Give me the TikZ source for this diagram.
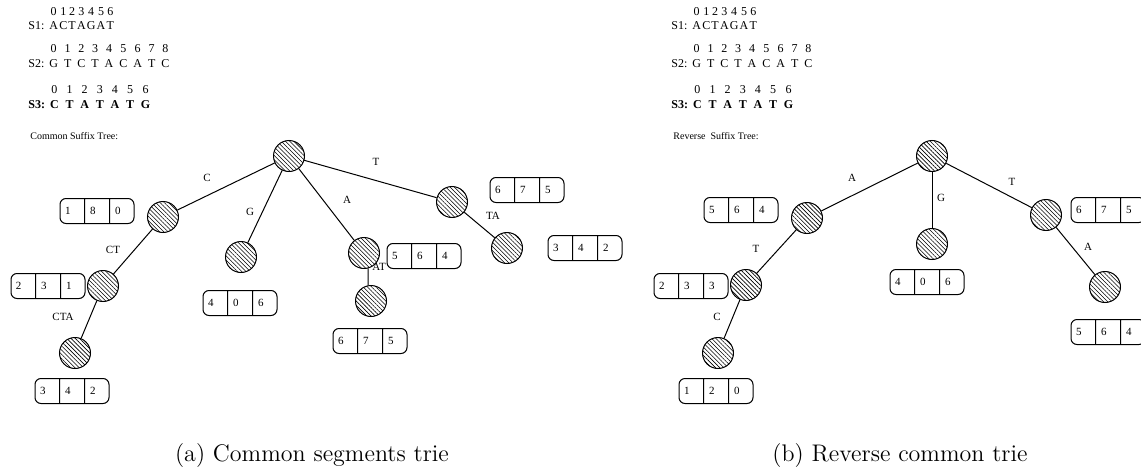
\documentclass[tikz,border=0pt]{standalone}
\usepackage{fontspec}
\newfontfamily\tm{Liberation Serif}
\usetikzlibrary{positioning,shapes.multipart,patterns.meta}

\begin{document}
\begin{tikzpicture}[x=0.5pt, y=-0.5pt,
        trienode/.style={circle, draw, line width=0.5pt, minimum size=15.5pt, inner sep=0pt, pattern={Lines[angle=-45, distance=1.5pt, line width=0.3pt]}},
        edgelabel/.style={inner sep=0pt, font=\tm\fontsize{5.5}{6.5}\selectfont},
        posbox/.style={rectangle split, rectangle split horizontal, rectangle split parts=3, draw, line width=0.5pt, rounded corners=3pt, text width=7pt, align=left, inner xsep=2.5pt, text height=4pt, text depth=1pt, inner ysep=3.75pt, font=\tm\fontsize{5.5}{6.5}\selectfont},
        seqnode/.style={inner sep=0pt, anchor=west, font=\tm\fontsize{6}{7.2}\selectfont},
        titlenode/.style={inner sep=0pt, anchor=west, font=\tm\fontsize{5}{6}\selectfont},
        captionnode/.style={inner sep=0pt, anchor=base, font=\fontsize{12}{14}\selectfont},
        ]
        \useasboundingbox (0,0) rectangle (1141,471);

        %Sequences (left)
        \node[seqnode] (ls1) at (28,19.5) {\setlength\tabcolsep{0.3pt}\begin{tabular}{@{}l@{\hspace{2.5pt}}*{7}{c}@{}} & 0&1&2&3&4&5&6\\ S1: & A&C&T&A&G&A&T\end{tabular}};
        \node[seqnode] (ls2) at (28,57) {\setlength\tabcolsep{1.5pt}\begin{tabular}{@{}l@{\hspace{2.5pt}}*{9}{c}@{}} & 0&1&2&3&4&5&6&7&8\\ S2: & G&T&C&T&A&C&A&T&C\end{tabular}};
        \node[seqnode] (ls3) at (28,98) {\setlength\tabcolsep{1.7pt}\begin{tabular}{@{}l@{\hspace{2.5pt}}*{7}{c}@{}} & 0&1&2&3&4&5&6\\ \textbf{S3:} & \textbf{C}&\textbf{T}&\textbf{A}&\textbf{T}&\textbf{A}&\textbf{T}&\textbf{G}\end{tabular}};
        \node[titlenode] (ltitle) at (30,136) {Common Suffix Tree:};

        %Trie (left)
        \node[trienode] (lroot) at (289,156) {};
        \node[trienode] (lc) at (163,217) {};
        \node[trienode] (lg) at (241,257) {};
        \node[trienode] (la) at (364,253) {};
        \node[trienode] (lt) at (452,202) {};
        \node[trienode] (lct) at (103,286) {};
        \node[trienode] (lcta) at (75,353) {};
        \node[trienode] (lat) at (371,301) {};
        \node[trienode] (lta) at (507,248) {};

        \draw[line width=0.5pt] (lroot) -- (lc);
        \draw[line width=0.5pt] (lroot) -- (lg);
        \draw[line width=0.5pt] (lroot) -- (la);
        \draw[line width=0.5pt] (lroot) -- (lt);
        \draw[line width=0.5pt] (lc) -- (lct);
        \draw[line width=0.5pt] (lct) -- (lcta);
        \draw[line width=0.5pt] (la.-75) -- (lat.100);
        \draw[line width=0.5pt] (lt) -- (lta);

        \node[edgelabel] (lcl) at (207,178) {C};
        \node[edgelabel] (lgl) at (250,212) {G};
        \node[edgelabel] (lctl) at (113,250) {CT};
        \node[edgelabel] (lctal) at (63,317) {CTA};
        \node[edgelabel] (lal) at (347,200) {A};
        \node[edgelabel] (latl) at (379,267) {AT};
        \node[edgelabel] (ltl) at (376,162) {T};
        \node[edgelabel] (ltal) at (493,216) {TA};

        \node[posbox] (lcbox) at (97,211) {1 \nodepart{two} 8 \nodepart{three} 0};
        \node[posbox] (lctbox) at (48,286) {2 \nodepart{two} 3 \nodepart{three} 1};
        \node[posbox] (lctabox) at (72,391) {3 \nodepart{two} 4 \nodepart{three} 2};
        \node[posbox] (lgbox) at (240,303) {4 \nodepart{two} 0 \nodepart{three} 6};
        \node[posbox] (labox) at (424,256) {5 \nodepart{two} 6 \nodepart{three} 4};
        \node[posbox] (latbox) at (370,341) {6 \nodepart{two} 7 \nodepart{three} 5};
        \node[posbox] (ltbox) at (527,190) {6 \nodepart{two} 7 \nodepart{three} 5};
        \node[posbox] (ltabox) at (585,248) {3 \nodepart{two} 4 \nodepart{three} 2};

        \node[captionnode] (lcaption) at (312,461) {(a) Common segments trie};

        %Sequences (right)
        \node[seqnode] (rs1) at (671,19.5) {\setlength\tabcolsep{0.3pt}\begin{tabular}{@{}l@{\hspace{2.5pt}}*{7}{c}@{}} & 0&1&2&3&4&5&6\\ S1: & A&C&T&A&G&A&T\end{tabular}};
        \node[seqnode] (rs2) at (671,57) {\setlength\tabcolsep{1.5pt}\begin{tabular}{@{}l@{\hspace{2.5pt}}*{9}{c}@{}} & 0&1&2&3&4&5&6&7&8\\ S2: & G&T&C&T&A&C&A&T&C\end{tabular}};
        \node[seqnode] (rs3) at (671,98) {\setlength\tabcolsep{1.7pt}\begin{tabular}{@{}l@{\hspace{2.5pt}}*{7}{c}@{}} & 0&1&2&3&4&5&6\\ \textbf{S3:} & \textbf{C}&\textbf{T}&\textbf{A}&\textbf{T}&\textbf{A}&\textbf{T}&\textbf{G}\end{tabular}};
        \node[titlenode] (rtitle) at (673,136) {Reverse\ \ Suffix Tree:};

        %Trie (right)
        \node[trienode] (rroot) at (932,156) {};
        \node[trienode] (ra) at (807,218) {};
        \node[trienode] (rg) at (932,244) {};
        \node[trienode] (rt) at (1046,215) {};
        \node[trienode] (rat) at (746,285) {};
        \node[trienode] (ratc) at (718,353) {};
        \node[trienode] (rta) at (1105,287) {};

        \draw[line width=0.5pt] (rroot) -- (ra);
        \draw[line width=0.5pt] (rroot) -- (rg);
        \draw[line width=0.5pt] (rroot) -- (rt);
        \draw[line width=0.5pt] (ra) -- (rat);
        \draw[line width=0.5pt] (rat) -- (ratc);
        \draw[line width=0.5pt] (rt) -- (rta);

        \node[edgelabel] (ral) at (852,178) {A};
        \node[edgelabel] (rgl) at (941,198) {G};
        \node[edgelabel] (rtl) at (1012,182) {T};
        \node[edgelabel] (ratl) at (756,249) {T};
        \node[edgelabel] (ratcl) at (717,317) {C};
        \node[edgelabel] (rtal) at (1088,247) {A};

        \node[posbox] (rabox) at (741,210) {5 \nodepart{two} 6 \nodepart{three} 4};
        \node[posbox] (ratbox) at (691,286) {2 \nodepart{two} 3 \nodepart{three} 3};
        \node[posbox] (ratcbox) at (716,391) {1 \nodepart{two} 2 \nodepart{three} 0};
        \node[posbox] (rgbox) at (927,282) {4 \nodepart{two} 0 \nodepart{three} 6};
        \node[posbox] (rtbox) at (1108,210) {6 \nodepart{two} 7 \nodepart{three} 5};
        \node[posbox] (rtabox) at (1108,332) {5 \nodepart{two} 6 \nodepart{three} 4};

        \node[captionnode] (rcaption) at (900,461) {(b) Reverse common trie};
    \end{tikzpicture}
\end{document}
